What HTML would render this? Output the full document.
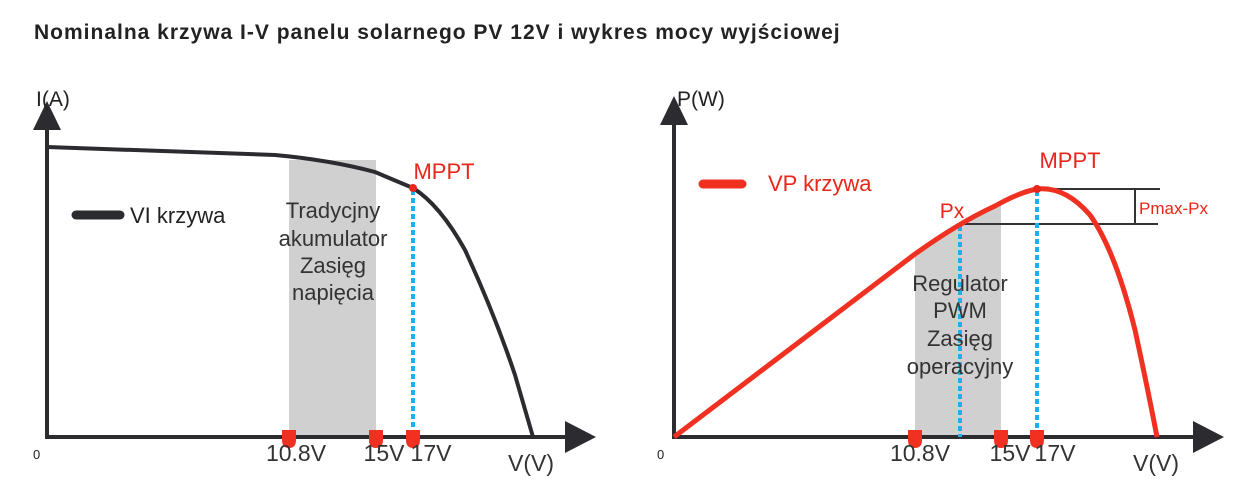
<!DOCTYPE html>
<html><head><meta charset="utf-8"><style>
html,body{margin:0;padding:0;background:#fff;}
svg{display:block;font-family:"Liberation Sans","DejaVu Sans",sans-serif;}
</style></head><body>
<svg width="1246" height="488" viewBox="0 0 1246 488">
<text x="34" y="39" font-size="21" font-weight="bold" fill="#222" letter-spacing="1">Nominalna krzywa I-V panelu solarnego PV 12V i wykres mocy wyjściowej</text>

<!-- LEFT -->
<rect x="289" y="160" width="87" height="277" fill="#d0d0d0"/>
<line x1="47" y1="125" x2="47" y2="438" stroke="#2b2b30" stroke-width="4"/>
<polygon points="33,130 61,130 47,101" fill="#2b2b30"/>
<line x1="45" y1="437" x2="572" y2="437" stroke="#2b2b30" stroke-width="4"/>
<polygon points="565,421 565,453 596,437" fill="#2b2b30"/>
<path d="M47,147 L275,155 Q330,160 375,172 L413,188 Q440,205 465,250 Q495,315 515,375 L533,437" fill="none" stroke="#2b2b30" stroke-width="4"/>
<line x1="413" y1="190" x2="413" y2="437" stroke="#1fb0ec" stroke-width="4" stroke-dasharray="5,3"/>
<circle cx="413" cy="188" r="4" fill="#e8261a"/>
<g fill="#f03020">
<path d="M282,430 h14 v10 q0,8 -7,8 q-7,0 -7,-8z"/>
<path d="M369,430 h14 v10 q0,8 -7,8 q-7,0 -7,-8z"/>
<path d="M406,430 h14 v10 q0,8 -7,8 q-7,0 -7,-8z"/>
</g>
<line x1="76" y1="215" x2="120" y2="215" stroke="#2b2b30" stroke-width="9" stroke-linecap="round"/>
<text x="130" y="223" font-size="22" fill="#222">VI krzywa</text>
<text x="36" y="106" font-size="21" fill="#222">I(A)</text>
<text x="33" y="459" font-size="13" fill="#222">0</text>
<g font-size="22" fill="#333" text-anchor="middle">
<text x="333" y="218">Tradycjny</text>
<text x="333" y="246">akumulator</text>
<text x="333" y="273">Zasięg</text>
<text x="333" y="300">napięcia</text>
</g>
<text x="444" y="179" font-size="22" fill="#e8261a" text-anchor="middle">MPPT</text>
<g font-size="23" fill="#333" text-anchor="middle">
<text x="296" y="461">10.8V</text>
<text x="384" y="461">15V</text>
<text x="431" y="461">17V</text>
<text x="531" y="471">V(V)</text>
</g>

<!-- RIGHT -->
<path d="M915,437 L915,254 Q960,225 1001,204 L1001,437z" fill="#d0d0d0"/>
<line x1="674" y1="120" x2="674" y2="438" stroke="#2b2b30" stroke-width="4"/>
<polygon points="660,125 688,125 674,96" fill="#2b2b30"/>
<line x1="672" y1="437" x2="1200" y2="437" stroke="#2b2b30" stroke-width="4"/>
<polygon points="1193,421 1193,453 1224,437" fill="#2b2b30"/>
<line x1="1037" y1="189" x2="1160" y2="189" stroke="#333" stroke-width="2"/>
<line x1="963" y1="224" x2="1158" y2="224" stroke="#333" stroke-width="2"/>
<line x1="1135" y1="189" x2="1135" y2="224" stroke="#333" stroke-width="2"/>
<line x1="960" y1="226" x2="960" y2="437" stroke="#1fb0ec" stroke-width="4" stroke-dasharray="5,3"/>
<line x1="1037" y1="191" x2="1037" y2="437" stroke="#1fb0ec" stroke-width="4" stroke-dasharray="5,3"/>
<path d="M674,437 L915,254 Q960,222 995,206 Q1020,192 1037,189 Q1065,186 1090,215 Q1115,250 1135,330 Q1148,390 1157,437" fill="none" stroke="#f03020" stroke-width="5"/>
<circle cx="1037" cy="189" r="4" fill="#e8261a"/>
<g fill="#f03020">
<path d="M908,430 h14 v10 q0,8 -7,8 q-7,0 -7,-8z"/>
<path d="M994,430 h14 v10 q0,8 -7,8 q-7,0 -7,-8z"/>
<path d="M1030,430 h14 v10 q0,8 -7,8 q-7,0 -7,-8z"/>
</g>
<line x1="703" y1="184" x2="742" y2="184" stroke="#f03020" stroke-width="9" stroke-linecap="round"/>
<text x="768" y="191" font-size="22" fill="#e8261a">VP krzywa</text>
<text x="677" y="106" font-size="21" fill="#222">P(W)</text>
<text x="657" y="459" font-size="13" fill="#222">0</text>
<text x="1070" y="168" font-size="22" fill="#e8261a" text-anchor="middle">MPPT</text>
<text x="952" y="218" font-size="21" fill="#e8261a" text-anchor="middle">Px</text>
<text x="1139" y="214" font-size="17" fill="#e8261a">Pmax-Px</text>
<g font-size="22" fill="#333" text-anchor="middle">
<text x="960" y="291">Regulator</text>
<text x="960" y="318">PWM</text>
<text x="960" y="346">Zasięg</text>
<text x="960" y="374">operacyjny</text>
</g>
<g font-size="23" fill="#333" text-anchor="middle">
<text x="920" y="461">10.8V</text>
<text x="1010" y="461">15V</text>
<text x="1055" y="461">17V</text>
<text x="1156" y="471">V(V)</text>
</g>
</svg>
</body></html>
